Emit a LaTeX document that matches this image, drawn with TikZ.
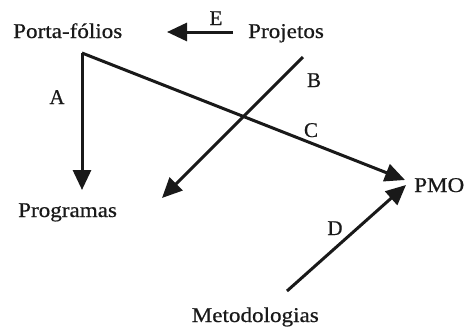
\documentclass[tikz,border=0pt]{standalone}
\usepackage{fontspec}
\setmainfont{Liberation Serif}
\newfontfamily\lblfont{Liberation Serif}[FakeBold=0.6]
\usetikzlibrary{arrows.meta}
\begin{document}
\begin{tikzpicture}[x=1pt,y=-1pt,
  lbl/.style={inner sep=0pt,font=\lblfont\fontsize{21}{24}\selectfont,text=black!90},
  conn/.style={line width=3pt,color=black!90,-{Triangle[length=20pt,width=18pt]}}]
\useasboundingbox (0,0) rectangle (467,327);
\node[lbl,anchor=base west] (port) at (13,38) {\scalebox{1.1}[1]{Porta-fólios}};
\node[lbl,anchor=base west] (proj) at (248,38) {\scalebox{1.1}[1]{Projetos}};
\node[lbl,anchor=base west] (prog) at (18,217) {\scalebox{1.1}[1]{Programas}};
\node[lbl,anchor=base west] (pmo) at (414,192) {\scalebox{1.1}[1]{PMO}};
\node[lbl,anchor=base east] (met) at (319,322) {\scalebox{1.1}[1]{Metodologias}};
\coordinate (portS) at (82,53);
\coordinate (progN) at (82,190);
\coordinate (projW) at (233,32);
\coordinate (portE) at (167,32);
\coordinate (projS) at (303,57);
\coordinate (progE) at (162,198);
\coordinate (pmoW1) at (405,180);
\coordinate (pmoW2) at (406,185);
\coordinate (metN) at (287,291);
\draw[conn] (portS) -- (progN);
\draw[conn] (projW) -- (portE);
\draw[conn] (projS) -- (progE);
\draw[conn] (portS) -- (pmoW1);
\draw[conn] (metN) -- (pmoW2);
\node[lbl,anchor=base] (la) at (57,104) {A};
\node[lbl,anchor=base] (le) at (216,25) {E};
\node[lbl,anchor=base] (lb) at (314,87) {B};
\node[lbl,anchor=base] (lc) at (311,137) {C};
\node[lbl,anchor=base] (ld) at (335,235) {D};
\end{tikzpicture}
\end{document}
